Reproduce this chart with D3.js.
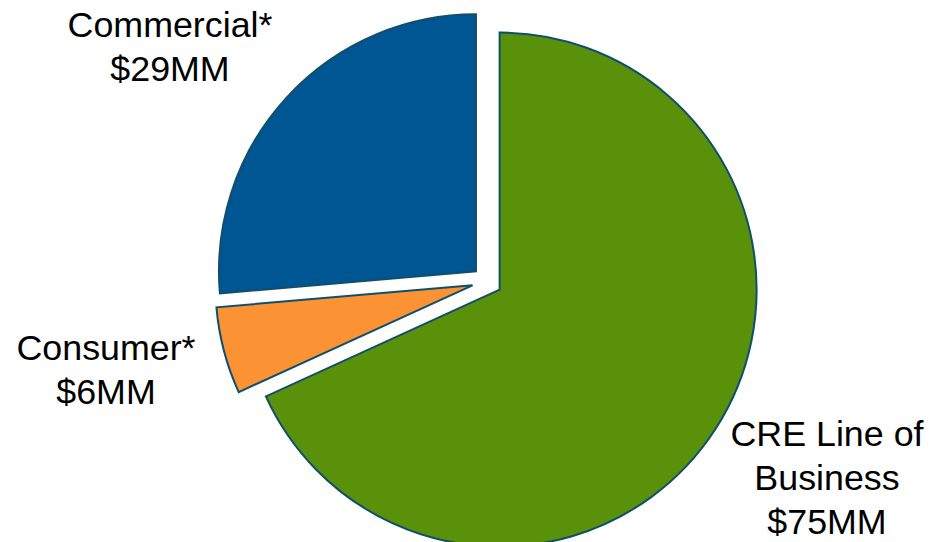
<!DOCTYPE html>
<html>
<head>
<meta charset="utf-8">
<script src="https://cdn.jsdelivr.net/npm/d3@7"></script>
<style>
  html, body { margin: 0; padding: 0; background: #ffffff; }
  svg { display: block; }
  text { font-family: "Liberation Sans", Arial, sans-serif; fill: #000000; }
</style>
</head>
<body>
<svg id="chart" width="933" height="542"></svg>
<script>
// Segment data, in clockwise order starting at 12 o'clock
const categories = ["CRE Line of Business", "Consumer*", "Commercial*"];
const values = [75, 6, 29];
const labelLines = [
  ["CRE Line of", "Business", "$75MM"],
  ["Consumer*", "$6MM"],
  ["Commercial*", "$29MM"]
];
const colors = ["#5a910b", "#fb9335", "#005693"];

// Layout
const width = 933, height = 542;
const cx = 487, cy = 281.5;
const radius = 257;
const explode = 15;
const fontSize = 35.8;
const lineHeight = 44;
// first-line baseline anchor for each label block
const labelAnchors = [
  { x: 827, y: 446 },
  { x: 106, y: 359.5 },
  { x: 170, y: 36.5 }
];

const svg = d3.select("#chart");
const g = svg.append("g").attr("transform", `translate(${cx},${cy})`);

const rows = categories.map((c, i) => ({ category: c, value: values[i], color: colors[i], lines: labelLines[i], anchor: labelAnchors[i] }));

const pie = d3.pie().value(d => d.value).sort(null).startAngle(0).endAngle(2 * Math.PI);
const arc = d3.arc().innerRadius(0).outerRadius(radius);
const arcs = pie(rows);

g.selectAll("path.slice")
  .data(arcs)
  .join("path")
  .attr("class", "slice")
  .attr("d", arc)
  .attr("transform", d => {
    const mid = (d.startAngle + d.endAngle) / 2;
    return `translate(${Math.sin(mid) * explode},${-Math.cos(mid) * explode})`;
  })
  .attr("fill", d => d.data.color)
  .attr("stroke", "#0f4f6c")
  .attr("stroke-width", 2)
  .attr("stroke-linejoin", "miter");

// Slice labels
const labels = svg.selectAll("text.label")
  .data(rows)
  .join("text")
  .attr("class", "label")
  .attr("text-anchor", "middle")
  .attr("font-size", fontSize);

labels.selectAll("tspan")
  .data(d => d.lines.map((t, j) => ({ t, j, a: d.anchor })))
  .join("tspan")
  .attr("x", d => d.a.x)
  .attr("y", d => d.a.y + d.j * lineHeight)
  .text(d => d.t);
</script>
</body>
</html>
